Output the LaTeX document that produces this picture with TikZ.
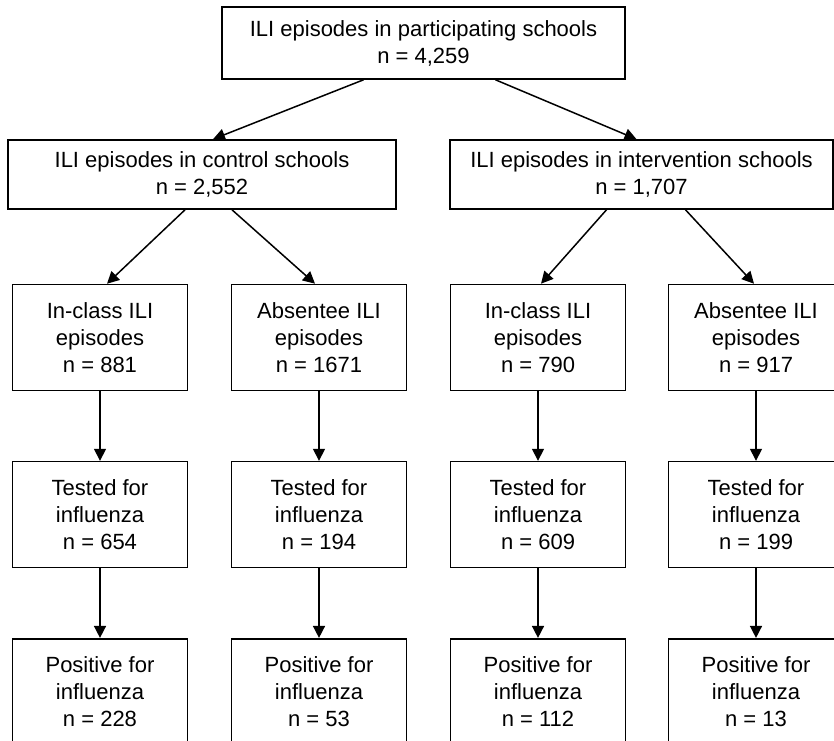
\documentclass[tikz,border=0pt]{standalone}
\usepackage{fontspec}
\setmainfont{Liberation Sans}
\usetikzlibrary{positioning,arrows.meta}

\begin{document}
\begin{tikzpicture}[x=1pt,y=1pt,->,>={Triangle[length=12pt,width=12pt]},
                    line width=1.5pt,node distance=69.5pt,
                    font=\fontsize{22}{27}\selectfont,
                    stage/.style={draw,line width=1.6pt,align=center,inner sep=0pt,
                                  minimum width=175pt,minimum height=106pt},
                    group/.style={stage,minimum width=388pt,minimum height=69pt}]

  \useasboundingbox (0,0) rectangle (834,-740);
  \clip (0,0) rectangle (834,-740);

  \node[group,minimum width=403pt,minimum height=72pt] (0) at (423.5,-43)
        {ILI episodes in participating schools\\n = 4,259};
  \node[group]                      (1) at (202,-174.5)
        {ILI episodes in control schools\\n = 2,552};
  \node[group,minimum width=383pt]  (2) at (641.5,-174.5)
        {ILI episodes in intervention schools\\n = 1,707};

  \node[stage] (3) at (100,-337.5) {In-class ILI\\episodes\\n = 881};
  \node[stage] (4) at (319,-337.5) {Absentee ILI\\episodes\\n = 1671};
  \node[stage] (5) at (538,-337.5) {In-class ILI\\episodes\\n = 790};
  \node[stage] (6) at (756,-337.5) {Absentee ILI\\episodes\\n = 917};

  \node[stage] (7)  [below=of 3] {Tested for\\influenza\\n = 654};
  \node[stage] (8)  [below=of 4] {Tested for\\influenza\\n = 194};
  \node[stage] (9)  [below=of 5] {Tested for\\influenza\\n = 609};
  \node[stage] (10) [below=of 6] {Tested for\\influenza\\n = 199};

  \node[stage] (11) [below=of 7]  {Positive for\\influenza\\n = 228};
  \node[stage] (12) [below=of 8]  {Positive for\\influenza\\n = 53};
  \node[stage] (13) [below=of 9]  {Positive for\\influenza\\n = 112};
  \node[stage] (14) [below=of 10] {Positive for\\influenza\\n = 13};

  \path ([xshift=-60pt]0.south) edge ([xshift=11pt]1.north)
        ([xshift=72pt]0.south)  edge ([xshift=-5pt]2.north)
        ([xshift=-17pt]1.south) edge ([xshift=7pt]3.north)
        ([xshift=30pt]1.south)  edge ([xshift=-4pt]4.north)
        ([xshift=-35pt]2.south) edge ([xshift=3pt]5.north)
        ([xshift=44pt]2.south)  edge ([xshift=-2pt]6.north)
        (3) edge (7)   (4) edge (8)   (5) edge (9)   (6) edge (10)
        (7) edge (11)  (8) edge (12)  (9) edge (13)  (10) edge (14);
\end{tikzpicture}
\end{document}
